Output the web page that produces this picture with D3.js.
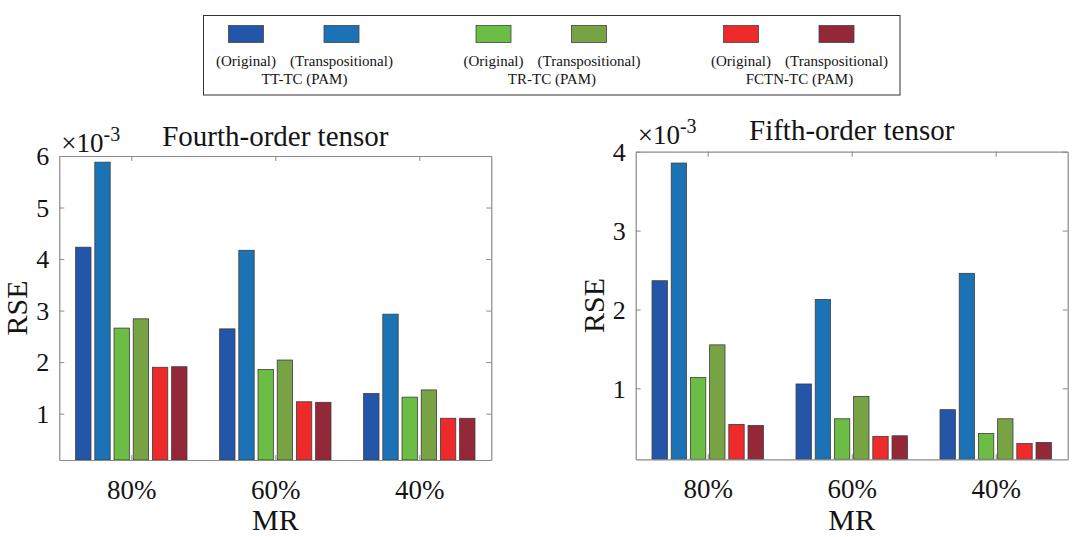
<!DOCTYPE html>
<html>
<head>
<meta charset="utf-8">
<script src="https://cdn.jsdelivr.net/npm/d3@7/dist/d3.min.js"></script>
<style>
  html, body { margin: 0; padding: 0; background: #fff; }
  svg { display: block; }
  svg text { font-family: "Liberation Serif", "Times New Roman", serif !important; }
</style>
</head>
<body>
<svg id="chart" width="1080" height="537"></svg>
<script>
// ---------------- data ----------------
const categories = ["80%", "60%", "40%"];
const methodNames = ["TT-TC (PAM)", "TR-TC (PAM)", "FCTN-TC (PAM)"];
const variantNames = ["(Original)", "(Transpositional)"];
const seriesColors = ["#2356a8", "#1b72b5", "#6cbd45", "#78a345", "#ee2a2a", "#952838"];

// Fourth-order tensor (RSE, x 10^-3)
const fourthTTOriginal = [4.23, 2.645, 1.39];
const fourthTTTranspositional = [5.88, 4.17, 2.93];
const fourthTROriginal = [2.66, 1.855, 1.32];
const fourthTRTranspositional = [2.84, 2.04, 1.46];
const fourthFCTNOriginal = [1.90, 1.23, 0.91];
const fourthFCTNTranspositional = [1.91, 1.22, 0.91];

// Fifth-order tensor (RSE, x 10^-3)
const fifthTTOriginal = [2.364, 1.055, 0.729];
const fifthTTTranspositional = [3.856, 2.127, 2.458];
const fifthTROriginal = [1.136, 0.614, 0.428];
const fifthTRTranspositional = [1.551, 0.898, 0.614];
const fifthFCTNOriginal = [0.542, 0.39, 0.30];
const fifthFCTNTranspositional = [0.53, 0.398, 0.314];

const fourthTicks = [1, 2, 3, 4, 5, 6];
const fifthTicks = [1, 2, 3, 4];

// ---------------- drawing ----------------
const svg = d3.select("#chart");
const FONT = "Liberation Serif, Times New Roman, serif";
const TEXT = "#141414";

function drawPanel(opts) {
  const { left, right, top, bottom, yMin, yMax, ticks, series, title, titleDy, expDy } = opts;
  const g = svg.append("g");
  const x = d3.scaleLinear().domain([0.5, categories.length + 0.5]).range([left, right]);
  const y = d3.scaleLinear().domain([yMin, yMax]).range([bottom, top]);
  const inner = d3.scaleBand().domain(d3.range(series.length))
    .range([-0.4, 0.4]).paddingInner(0.2).paddingOuter(0.1);

  // bars
  series.forEach((vals, si) => {
    g.selectAll(null).data(vals).enter().append("rect")
      .attr("x", (d, i) => x(i + 1 + inner(si)))
      .attr("width", x(inner.bandwidth()) - x(0))
      .attr("y", d => y(d))
      .attr("height", d => y(yMin) - y(d))
      .attr("fill", seriesColors[si])
      .attr("stroke", "#3c3c3c")
      .attr("stroke-width", 0.8);
  });

  const axisColor = "#8a8a8a";
  const tickLen = 5;
  const yL = d3.axisLeft(y).tickValues(ticks).tickSize(-tickLen).tickSizeOuter(0).tickPadding(10).tickFormat(d3.format("d"));
  const gyl = g.append("g").attr("transform", `translate(${left},0)`).call(yL);
  const yR = d3.axisRight(y).tickValues(ticks).tickSize(-tickLen).tickSizeOuter(0).tickFormat("");
  const gyr = g.append("g").attr("transform", `translate(${right},0)`).call(yR);
  const xB = d3.axisBottom(x).tickValues(d3.range(1, categories.length + 1)).tickSize(-tickLen).tickSizeOuter(0).tickPadding(20)
    .tickFormat(d => categories[d - 1]);
  const gxb = g.append("g").attr("transform", `translate(0,${bottom})`).call(xB);
  const xT = d3.axisTop(x).tickValues(d3.range(1, categories.length + 1)).tickSize(-tickLen).tickSizeOuter(0).tickFormat("");
  const gxt = g.append("g").attr("transform", `translate(0,${top})`).call(xT);

  [gyl, gyr, gxb, gxt].forEach(a => {
    a.attr("font-family", FONT).attr("font-size", null);
    a.select(".domain").attr("stroke", axisColor).attr("stroke-width", 1.2);
    a.selectAll(".tick line").attr("stroke", axisColor).attr("stroke-width", 1);
    a.selectAll(".tick text").attr("fill", TEXT).attr("font-family", FONT);
  });
  gyl.selectAll(".tick text").attr("font-size", 26).attr("dy", "0.34em");
  gxb.selectAll(".tick text").attr("font-size", 27).attr("dy", "0.71em");

  // x10^-3
  const ex = g.append("text").attr("x", left + 2).attr("y", top - expDy)
    .attr("fill", TEXT).attr("font-family", FONT).attr("font-size", 27);
  ex.append("tspan").text("\u00d710");
  ex.append("tspan").attr("dy", -11).attr("font-size", 20).text("-3");

  // title
  g.append("text").attr("x", (left + right) / 2).attr("y", top - titleDy)
    .attr("text-anchor", "middle").attr("fill", TEXT).attr("font-family", FONT)
    .attr("font-size", 29).text(title);

  // RSE
  g.append("text").attr("transform", `translate(${left - 32},${(top + bottom) / 2}) rotate(-90)`)
    .attr("text-anchor", "middle").attr("fill", TEXT).attr("font-family", FONT)
    .attr("font-size", 30).text("RSE");

  // MR
  g.append("text").attr("x", (left + right) / 2).attr("y", 530)
    .attr("text-anchor", "middle").attr("fill", TEXT).attr("font-family", FONT)
    .attr("font-size", 30).text("MR");
}

drawPanel({
  left: 59.3, right: 491.3, top: 156, bottom: 460, yMin: 0.1, yMax: 6, ticks: fourthTicks,
  series: [fourthTTOriginal, fourthTTTranspositional, fourthTROriginal, fourthTRTranspositional,
           fourthFCTNOriginal, fourthFCTNTranspositional],
  title: "Fourth-order tensor", titleDy: 10, expDy: 4
});
drawPanel({
  left: 635.7, right: 1067.7, top: 151.7, bottom: 459.3, yMin: 0.1, yMax: 4, ticks: fifthTicks,
  series: [fifthTTOriginal, fifthTTTranspositional, fifthTROriginal, fifthTRTranspositional,
           fifthFCTNOriginal, fifthFCTNTranspositional],
  title: "Fifth-order tensor", titleDy: 12, expDy: 8
});

// ---------------- legend ----------------
const lg = svg.append("g");
lg.append("rect").attr("x", 203.5).attr("y", 15.5).attr("width", 696.5).attr("height", 79.5)
  .attr("fill", "#fff").attr("stroke", "#333").attr("stroke-width", 1);
const legendX = d3.scaleLinear().domain([0, 1]).range([246, 493.5]);
methodNames.forEach((m, gi) => {
  const spans = [];
  variantNames.forEach((v, vi) => {
    const cx = legendX(gi) + vi * 95.5;
    const si = gi * 2 + vi;
    lg.append("rect").attr("x", cx - 17.5).attr("y", 25.5).attr("width", 35).attr("height", 17)
      .attr("fill", seriesColors[si]).attr("stroke", "#444").attr("stroke-width", 0.8);
    const t = lg.append("text").attr("x", cx).attr("y", 65.5).attr("text-anchor", "middle")
      .attr("fill", TEXT).attr("font-family", FONT).attr("font-size", 15).text(v);
    spans.push(t.node().getBBox());
  });
  const c = (spans[0].x + spans[1].x + spans[1].width) / 2;
  lg.append("text").attr("x", c).attr("y", 84).attr("text-anchor", "middle")
    .attr("fill", TEXT).attr("font-family", FONT).attr("font-size", 15).text(m);
});
</script>
</body>
</html>
